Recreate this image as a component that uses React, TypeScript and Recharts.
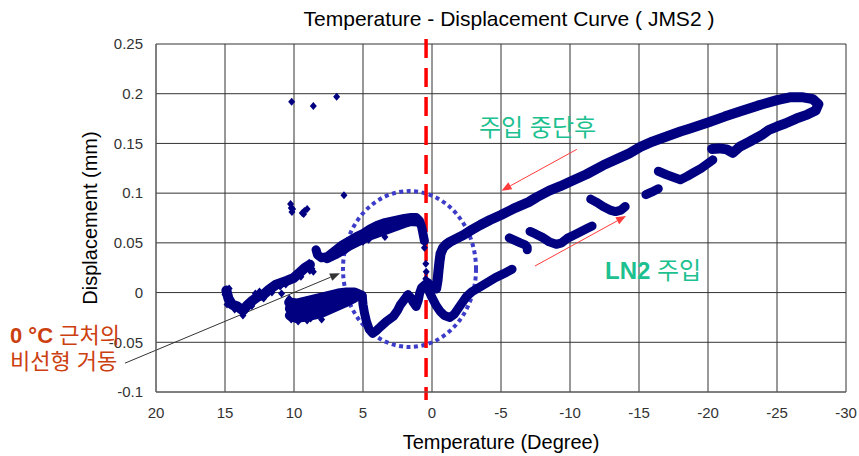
import React from 'react';
import {
  ScatterChart,
  Scatter,
  XAxis,
  YAxis,
  CartesianGrid,
  ReferenceLine,
  ReferenceArea,
} from 'recharts';

const NAVY = '#000080';
const FONT = '"Liberation Sans", Arial, sans-serif';
const KFONT = '"Liberation Sans", "Noto Sans CJK KR", sans-serif';

const xTicks = [20, 15, 10, 5, 0, -5, -10, -15, -20, -25, -30];
const yTicks = [-0.1, -0.05, 0, 0.05, 0.1, 0.15, 0.2, 0.25];

// [temperature, displacement], one array per visible stroke
const warmLeft = [
  [14.9, 0.002], [14.75, -0.006], [14.5, -0.012], [14.1, -0.014], [13.7, -0.018],
  [13.4, -0.013], [13.0, -0.008], [12.6, -0.004], [12.2, -0.002], [11.8, 0.003],
  [11.3, 0.008], [10.9, 0.01], [10.5, 0.012], [10.05, 0.0145], [9.6, 0.02],
  [9.2, 0.025], [8.85, 0.028],
];
const warmLeftDots = [
  [15.0, -0.002], [14.7, 0.004], [14.6, -0.009], [14.85, -0.012], [14.3, -0.017],
  [13.7, -0.023], [13.45, -0.013], [13.06, -0.0135], [12.2, -0.006], [12.5, 0.001],
  [12.8, -0.001], [11.6, 0.0], [10.9, -0.001], [11.26, 0.009], [11.0, 0.006],
  [10.6, 0.008], [8.85, 0.022], [8.7, 0.024], [8.6, 0.021], [8.9, 0.03], [9.5, 0.016],
];
const warmUpperTop = [
  [8.4, 0.043], [8.3, 0.038], [8.0, 0.035], [7.6, 0.036], [7.0, 0.0425],
  [6.5, 0.048], [6.0, 0.052], [5.5, 0.056], [5.0, 0.0595], [4.5, 0.064],
  [4.0, 0.0675], [3.5, 0.07], [3.0, 0.0715], [2.5, 0.073], [2.0, 0.0745],
  [1.5, 0.0755], [1.15, 0.0755], [0.9, 0.072], [0.75, 0.066], [0.65, 0.059],
  [0.55, 0.052],
];
const warmUpperBottom = [
  [7.6, 0.034], [7.0, 0.038], [6.5, 0.042], [6.0, 0.0465], [5.5, 0.05],
  [5.0, 0.0535], [4.5, 0.057], [4.0, 0.0595], [3.5, 0.062], [3.0, 0.0645],
  [2.5, 0.067], [2.0, 0.0695], [1.5, 0.0715], [1.1, 0.071],
];
const warmUpperDots = [[4.6, 0.053], [3.41, 0.056], [5.0, 0.051], [6.2, 0.043]];
const zeroDots = [[0.55, 0.045], [0.45, 0.029], [0.42, 0.021], [0.45, 0.014]];
const warmLowerA = [
  [10.35, -0.01], [9.8, -0.011], [9.2, -0.009], [8.6, -0.007], [8.0, -0.005],
  [7.4, -0.003], [6.8, -0.001], [6.2, 0.0], [5.6, 0.0], [5.1, -0.003],
];
const warmLowerB = [
  [10.3, -0.016], [9.6, -0.017], [8.8, -0.015], [8.0, -0.012], [7.2, -0.009],
  [6.4, -0.005],
];
const warmLowerC = [
  [10.3, -0.023], [9.8, -0.0255], [9.1, -0.024], [8.1, -0.021], [7.2, -0.0155],
  [6.3, -0.01], [5.6, -0.005],
];
const warmLowerDots = [
  [9.7, -0.029], [8.0, -0.027], [9.05, -0.028], [10.2, -0.027], [10.35, -0.006],
  [8.8, -0.026],
];
const lowerBranch = [
  [5.05, -0.004], [5.0, -0.012], [4.9, -0.02], [4.75, -0.029], [4.55, -0.037],
  [4.3, -0.041], [4.0, -0.038], [3.7, -0.034], [3.3, -0.029], [2.8, -0.024],
  [2.5, -0.018], [2.3, -0.0125], [2.0, -0.007], [1.75, -0.002], [1.55, -0.005],
  [1.35, -0.01], [1.15, -0.014], [1.0, -0.008], [0.9, -0.001], [0.75, 0.005],
  [0.5, 0.008], [0.3, 0.01],
];
const coolLower = [
  [0.3, 0.004], [0.0, -0.005], [-0.3, -0.013], [-0.6, -0.019], [-0.9, -0.023],
  [-1.3, -0.025], [-1.6, -0.022], [-1.9, -0.016], [-2.2, -0.01], [-2.5, -0.004],
  [-2.9, 0.001], [-3.4, 0.005], [-4.0, 0.01], [-4.6, 0.015], [-5.2, 0.019],
  [-5.8, 0.0235],
];
const coolUpper = [
  [0.3, 0.008], [0.0, 0.006], [-0.3, 0.004], [-0.4, 0.012], [-0.47, 0.022],
  [-0.55, 0.032], [-0.62, 0.039], [-0.8, 0.045], [-1.0, 0.048], [-1.3, 0.051],
  [-1.8, 0.0545], [-2.3, 0.058], [-2.75, 0.062], [-3.5, 0.068], [-4.2, 0.073],
  [-5.0, 0.078], [-6.0, 0.085], [-7.0, 0.091], [-7.6, 0.096], [-8.5, 0.1025],
  [-9.3, 0.107], [-10.0, 0.1115], [-11.2, 0.119], [-12.4, 0.128], [-13.5, 0.135],
  [-14.3, 0.14], [-15.1, 0.1465], [-16.0, 0.152], [-17.0, 0.157], [-18.0, 0.162],
  [-18.7, 0.165], [-20.0, 0.171], [-21.2, 0.177], [-22.3, 0.182], [-23.6, 0.188],
  [-25.0, 0.1935], [-26.0, 0.1965], [-26.8, 0.1965], [-27.6, 0.1945], [-28.0, 0.1895],
  [-27.8, 0.183], [-27.2, 0.179], [-26.4, 0.175], [-25.6, 0.17], [-25.0, 0.167],
  [-24.4, 0.1635], [-23.9, 0.1585], [-23.0, 0.1517], [-22.3, 0.1467], [-21.8, 0.1405],
  [-21.35, 0.144], [-20.8, 0.145], [-20.3, 0.1445],
];
const ln2SegA = [[-5.6, 0.055], [-6.0, 0.0525], [-6.4, 0.05], [-6.75, 0.048], [-6.9, 0.0455], [-6.9, 0.043]];
const ln2SegB = [
  [-7.1, 0.0615], [-7.5, 0.059], [-8.0, 0.0555], [-8.5, 0.051], [-9.0, 0.0485],
  [-9.4, 0.05], [-9.8, 0.0545], [-10.3, 0.058], [-10.8, 0.0615], [-11.3, 0.065],
  [-11.6, 0.067],
];
const ln2SegC = [[-11.5, 0.094], [-11.9, 0.091], [-12.4, 0.0865], [-12.9, 0.083], [-13.3, 0.0815], [-13.7, 0.083], [-14.0, 0.0865]];
const ln2SegD = [[-15.5, 0.0985], [-15.9, 0.101], [-16.4, 0.1045]];
const ln2SegE = [
  [-16.4, 0.122], [-17.0, 0.1185], [-17.5, 0.116], [-18.0, 0.1135], [-18.5, 0.117],
  [-19.0, 0.121], [-19.5, 0.125], [-20.0, 0.13], [-20.35, 0.1335],
];
const outliers = [
  [10.17, 0.192], [8.6, 0.1876], [6.91, 0.197], [6.38, 0.098],
  [10.25, 0.089], [10.2, 0.085], [10.15, 0.081], [10.1, 0.084],
  [9.4, 0.08], [9.25, 0.082], [9.05, 0.084], [9.3, 0.079],
];

// annotation geometry, in data units
const ellipseBox = { x1: 6.45, x2: -3.19, y1: -0.0547, y2: 0.1021 };
const zeroMarkX = 0.43;
const arrowStop = [{ x: -10.49, y: 0.144 }, { x: -5.04, y: 0.1025 }];
const arrowLn2 = [{ x: -7.46, y: 0.0267 }, { x: -14.06, y: 0.077 }];
const arrowZero = [{ x: 22.25, y: -0.071 }, { x: 6.67, y: 0.0194 }];

const pts = (rows: number[][]) => rows.map(([x, y]) => ({ x, y }));

const Diamond = (p: any) => {
  const { cx, cy } = p;
  if (cx == null || cy == null) return null;
  return (
    <polygon
      points={`${cx},${cy - 4} ${cx + 3.5},${cy} ${cx},${cy + 4} ${cx - 3.5},${cy}`}
      fill={NAVY}
    />
  );
};

const band = (w: number) => ({
  stroke: NAVY,
  strokeWidth: w,
  strokeLinejoin: 'round' as const,
  strokeLinecap: 'round' as const,
});

const arrow = (color: string) => (p: any) => {
  const { x1, y1, x2, y2 } = p;
  const a = Math.atan2(y2 - y1, x2 - x1);
  const L = 10;
  const W = 4;
  const bx = x2 - L * Math.cos(a);
  const by = y2 - L * Math.sin(a);
  const head = `${x2},${y2} ${bx + W * Math.sin(a)},${by - W * Math.cos(a)} ${bx - W * Math.sin(a)},${by + W * Math.cos(a)}`;
  return (
    <g>
      <line x1={x1} y1={y1} x2={bx} y2={by} stroke={color} strokeWidth={1} />
      <polygon points={head} fill={color} />
    </g>
  );
};

const YTitle = (props: any) => {
  const vb = props.viewBox || { x: 0, y: 44, width: 156, height: 348 };
  const cx = vb.x + 90;
  const cy = vb.y + vb.height / 2;
  return (
    <text
      x={cx}
      y={cy}
      transform={`rotate(-90 ${cx} ${cy})`}
      textAnchor="middle"
      dominantBaseline="central"
      fontSize={20}
      fontFamily={FONT}
      fill="#000"
    >
      Displacement (mm)
    </text>
  );
};

const lined: [number[][], number][] = [
  [warmLeft, 10],
  [warmUpperTop, 9],
  [warmUpperBottom, 9],
  [warmLowerA, 10],
  [warmLowerB, 10],
  [warmLowerC, 10],
  [lowerBranch, 9],
  [coolLower, 9],
  [coolUpper, 10],
  [ln2SegA, 9],
  [ln2SegB, 9],
  [ln2SegC, 9],
  [ln2SegD, 9],
  [ln2SegE, 9],
];
const dotted = [warmLeftDots, warmUpperDots, zeroDots, warmLowerDots, outliers];

export default function App() {
  return (
    <div
      style={{
        position: 'absolute',
        left: 0,
        top: 0,
        width: 859,
        height: 456,
        background: '#fff',
        fontFamily: FONT,
      }}
    >
      <div
        style={{
          position: 'absolute',
          left: 209,
          top: 7,
          width: 600,
          textAlign: 'center',
          fontSize: 21,
          lineHeight: '24px',
          color: '#000',
          whiteSpace: 'nowrap',
        }}
      >
        Temperature - Displacement Curve ( JMS2 )
      </div>
      <ScatterChart width={859} height={456} margin={{ top: 44, right: 13, bottom: 0, left: 0 }}>
        <CartesianGrid stroke="#333" strokeWidth={1} />
        <XAxis
          type="number"
          dataKey="x"
          domain={[-30, 20]}
          reversed
          ticks={xTicks}
          interval={0}
          allowDataOverflow
          height={64}
          tickLine={false}
          tickMargin={9}
          axisLine={{ stroke: '#666' }}
          tick={{ fontSize: 15, fill: '#333', fontFamily: FONT }}
          label={{
            value: 'Temperature (Degree)',
            position: 'insideBottom',
            offset: 7,
            fontSize: 20,
            fill: '#000',
            fontFamily: FONT,
          }}
        />
        <YAxis
          type="number"
          dataKey="y"
          domain={[-0.1, 0.25]}
          ticks={yTicks}
          interval={0}
          allowDataOverflow
          width={156}
          tickLine={false}
          tickMargin={7}
          axisLine={{ stroke: '#666' }}
          tick={{ fontSize: 15, fill: '#333', fontFamily: FONT }}
          label={<YTitle />}
        />
        {lined.map(([seg, w], i) => (
          <Scatter
            key={`l${i}`}
            data={pts(seg)}
            line={band(w)}
            shape={Diamond}
            isAnimationActive={false}
          />
        ))}
        {dotted.map((seg, i) => (
          <Scatter key={`d${i}`} data={pts(seg)} shape={Diamond} isAnimationActive={false} />
        ))}
        <ReferenceArea
          x1={ellipseBox.x1}
          x2={ellipseBox.x2}
          y1={ellipseBox.y1}
          y2={ellipseBox.y2}
          ifOverflow="visible"
          shape={(p: any) => (
            <ellipse
              cx={p.x + p.width / 2}
              cy={p.y + p.height / 2}
              rx={Math.abs(p.width) / 2}
              ry={Math.abs(p.height) / 2}
              fill="none"
              stroke="#3c3cc8"
              strokeWidth={4}
              strokeDasharray="4 3.5"
            />
          )}
        />
        <ReferenceLine
          segment={[{ x: zeroMarkX, y: 0.255 }, { x: zeroMarkX, y: -0.108 }]}
          ifOverflow="visible"
          stroke="#ff0000"
          strokeWidth={3.5}
          strokeDasharray="19 10"
        />
        <ReferenceLine segment={arrowStop} ifOverflow="visible" shape={arrow('#ff3b3b')} />
        <ReferenceLine segment={arrowLn2} ifOverflow="visible" shape={arrow('#ff3b3b')} />
        <ReferenceLine segment={arrowZero} ifOverflow="visible" shape={arrow('#333')} />
      </ScatterChart>
      <div
        style={{
          position: 'absolute',
          left: 479,
          top: 116,
          fontFamily: KFONT,
          fontSize: 24,
          lineHeight: '24px',
          color: '#1dc08f',
          whiteSpace: 'nowrap',
        }}
      >
        주입 중단후
      </div>
      <div
        style={{
          position: 'absolute',
          left: 605,
          top: 259,
          fontFamily: KFONT,
          fontSize: 24,
          lineHeight: '24px',
          color: '#1dc08f',
          whiteSpace: 'nowrap',
        }}
      >
        <b>LN2</b> 주입
      </div>
      <div
        style={{
          position: 'absolute',
          left: 10,
          top: 323,
          fontFamily: KFONT,
          fontSize: 22,
          lineHeight: '26px',
          color: '#cc4010',
          whiteSpace: 'nowrap',
        }}
      >
        <b>0 °C</b> 근처의
        <br />
        비선형 거동
      </div>
    </div>
  );
}
